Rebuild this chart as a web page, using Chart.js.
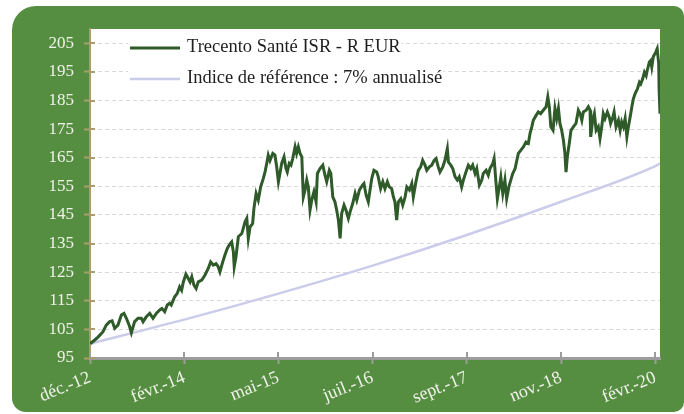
<!DOCTYPE html>
<html lang="fr">
<head>
<meta charset="utf-8">
<title>Trecento Santé ISR - R EUR</title>
<script src="https://cdn.jsdelivr.net/npm/chart.js@4.4.1/dist/chart.umd.min.js"></script>
<style>
    html, body { margin: 0; padding: 0; background: #ffffff; }
</style>
</head>
<body>
<canvas id="graficoFonds" width="684" height="414"></canvas>
<script>
// jours depuis le départ (mi-décembre 2012) et valeurs
const fundDays = [0,22,37,60,75,91,102,114,129,145,
    157,168,183,191,206,222,237,245,260,276,
    291,306,322,332,345,357,368,375,391,403,
    414,423,431,443,454,462,470,480,490,500,
    516,531,546,557,569,582,592,600,613,623,
    634,647,654,662,666,674,685,701,716,724,
    731,739,751,757,767,777,788,800,808,816,
    823,831,844,854,862,870,877,885,896,905,
    911,920,928,936,947,954,962,970,978,985,
    993,1001,1008,1016,1024,1034,1044,1050,1062,1075,
    1085,1093,1105,1112,1121,1131,1139,1147,1155,1162,
    1173,1182,1193,1201,1213,1224,1232,1244,1259,1265,
    1275,1285,1293,1301,1311,1324,1331,1342,1352,1362,
    1373,1382,1393,1401,1408,1416,1424,1435,1444,1455,
    1463,1475,1486,1493,1505,1516,1527,1536,1547,1555,
    1567,1578,1589,1598,1608,1616,1629,1639,1650,1655,
    1666,1675,1686,1696,1705,1716,1724,1736,1747,1758,
    1767,1778,1786,1798,1809,1816,1829,1839,1847,1860,
    1866,1875,1881,1890,1897,1906,1916,1924,1934,1943,
    1952,1963,1971,1978,1989,2001,2013,2024,2032,2040,
    2047,2060,2070,2081,2093,2106,2114,2121,2128,2138,
    2147,2155,2163,2170,2178,2186,2193,2198,2204,2213,
    2221,2232,2244,2255,2263,2271,2278,2291,2301,2309,
    2312,2321,2329,2337,2347,2355,2363,2370,2378,2389,
    2398,2404,2414,2420,2429,2440,2448,2455,2463,2471,
    2479,2486,2494,2502,2509,2517,2528,2537,2543,2552,
    2560,2568,2573,2583,2589,2594,2601,2613,2619,2626,
    2628,2632];

const fundValues = [100,101.3,102.3,104.2,106.5,107.7,108,105.4,106.5,110,
    110.6,108.9,106,103.8,107.7,108.9,108.9,107.7,109.4,110.6,
    108.9,110.6,111.8,112.3,111.2,113.5,114.1,113.5,116.4,117.6,
    119.9,118.7,121.6,124.3,122.8,121.6,123.4,120.5,119.3,121.6,
    122.2,124,126.3,128.6,127.5,128,126.9,125.1,128.6,131,
    133.3,135,135.6,132.1,126.9,130.4,137.4,138.5,142.6,143.8,
    136.8,140.8,142,147.3,152.5,150.2,154.8,157.7,160,163,
    165.9,164,166.5,165.9,161.8,156.6,159.5,163,165.3,161.2,
    160,163,162.4,164.7,168.8,166.5,168.8,166.5,165.3,151.3,
    153.7,157.2,154.8,146.7,150.2,153.1,149.6,159.5,161.2,162.4,
    158.9,156.6,160.6,159.5,151.3,149.6,146.7,143.2,136.8,145.5,
    148.4,146.7,143.8,146.1,149,152.5,150.2,153.7,155.5,156,
    151.9,149.6,153.7,157.7,160.6,160,158.3,154.2,156.6,154.2,
    156.6,154.8,154.2,151.3,149.6,143.2,149.6,150.7,148.4,151.3,
    154.8,153.7,156,151.3,156.6,160.6,161.8,164.1,162.4,160.6,
    161.8,162.4,164.1,164.7,161.8,160,161.8,164.1,168.2,163.5,
    162.4,161.2,158.3,157.2,158.3,154.8,157.2,160,162.4,161.2,
    162.4,159.5,161.2,155.4,157.2,159.5,160.6,158.9,161.2,163,
    164.7,156,150.7,154.8,158.3,152.5,157.2,150.7,154.8,157.2,
    159.5,161.2,164.1,166.5,167.6,168.8,170.5,170,173.5,175.8,
    178.1,179.8,181,180.4,181.6,182.8,186.3,182.8,175.8,174.6,
    182.2,178.7,182.2,177,174.6,171.1,166.5,160,165.3,170,
    174.6,175.8,177,181.6,180.4,178.1,181,181.6,182.8,181.6,
    172.3,178.1,180.4,174.6,175.8,171.7,175.8,180.4,178.7,181,
    179.2,177,179.2,181,175.8,178.1,174.6,177.5,175.8,178.7,
    172.3,175.8,179.2,182.8,185.6,187.4,189.1,191.4,190.8,192.6,
    194.9,193.7,195.5,198.5,199,196.7,200.3,202,203.1,197.9,
    188.6,180.4];

// indice de référence, lu aux graduations
const indexDays = [0, 435, 870, 1305, 1740, 2175, 2610, 2632];
const indexValues = [100, 108.4, 117.5, 127.3, 138.0, 149.6, 162.1, 163.0];

const seriesNames = ['Trecento Santé ISR - R EUR', 'Indice de référence : 7% annualisé'];

const xTickDays = [0, 435, 870, 1305, 1740, 2175, 2610];
const xTickLabels = ['déc.-12', 'févr.-14', 'mai-15', 'juil.-16', 'sept.-17', 'nov.-18', 'févr.-20'];
const yTicks = [95, 105, 115, 125, 135, 145, 155, 165, 175, 185, 195, 205];

const fontSerif = "'Liberation Serif', 'DejaVu Serif', serif";
const colorFund = '#2F5A29';
const colorIndex = '#CBCBEA';
const colorAxeY = '#AD9C6B';
const colorAxeX = '#9C9C9C';

// fond vert arrondi + zone blanche du graphique
const fondo = {
    id: 'fondo',
    beforeDraw(chart) {
        const ctx = chart.ctx;
        const a = chart.chartArea;
        ctx.save();
        ctx.fillStyle = '#ffffff';
        ctx.fillRect(0, 0, chart.width, chart.height);
        ctx.fillStyle = '#558E40';
        ctx.beginPath();
        ctx.roundRect(12, 6, chart.width - 12, chart.height - 8, [24, 10, 10, 14]);
        ctx.fill();
        ctx.fillStyle = '#ffffff';
        ctx.fillRect(a.left, a.top, a.right - a.left, a.bottom - a.top);
        ctx.restore();
    }
};

// petites graduations vers l'intérieur + légende
const leyenda = {
    id: 'leyenda',
    afterDraw(chart) {
        const ctx = chart.ctx;
        const a = chart.chartArea;
        const sx = chart.scales.x;
        const sy = chart.scales.y;
        ctx.save();

        ctx.lineWidth = 2;
        ctx.strokeStyle = colorAxeY;
        yTicks.forEach(function(v){
            const y = Math.round(sy.getPixelForValue(v));
            ctx.beginPath();
            ctx.moveTo(a.left, y);
            ctx.lineTo(a.left + 5, y);
            ctx.stroke();
        });
        ctx.strokeStyle = colorAxeX;
        xTickDays.forEach(function(v){
            const x = Math.round(sx.getPixelForValue(v));
            ctx.beginPath();
            ctx.moveTo(x, a.bottom);
            ctx.lineTo(x, a.bottom - 6);
            ctx.stroke();
        });

        ctx.font = '18.5px ' + fontSerif;
        ctx.textBaseline = 'middle';
        const filas = [
            { y: a.top + 18, color: colorFund, width: 3 },
            { y: a.top + 49, color: colorIndex, width: 2.5 }
        ];
        filas.forEach(function(f, i){
            const w = ctx.measureText(seriesNames[i]).width;
            ctx.fillStyle = '#ffffff';
            ctx.fillRect(a.left + 38, f.y - 9, 60 + w, 18);
            ctx.strokeStyle = f.color;
            ctx.lineWidth = f.width;
            ctx.beginPath();
            ctx.moveTo(a.left + 40, f.y + 1);
            ctx.lineTo(a.left + 90, f.y + 1);
            ctx.stroke();
            ctx.fillStyle = '#1E1E1E';
            ctx.fillText(seriesNames[i], a.left + 97, f.y);
        });
        ctx.restore();
    }
};

const datachart = {
    datasets: [
        {
            label: seriesNames[0],
            data: fundDays.map((d, i) => ({ x: d, y: fundValues[i] })),
            borderColor: colorFund,
            borderWidth: 3,
            pointRadius: 0,
            tension: 0
        },
        {
            label: seriesNames[1],
            data: indexDays.map((d, i) => ({ x: d, y: indexValues[i] })),
            borderColor: colorIndex,
            borderWidth: 2.5,
            pointRadius: 0,
            cubicInterpolationMode: 'monotone'
        }
    ]
};

const options = {
    responsive: false,
    animation: false,
    layout: { padding: { left: 0, right: 24, top: 29, bottom: 0 } },
    plugins: {
        legend: { display: false },
        tooltip: { enabled: false }
    },
    scales: {
        x: {
            type: 'linear',
            min: 0,
            max: 2632,
            afterBuildTicks: s => { s.ticks = xTickDays.map(v => ({ value: v })); },
            afterFit: s => { s.height = 56; },
            grid: { drawOnChartArea: false, tickColor: colorAxeX, tickLength: 6, tickWidth: 2 },
            border: { color: colorAxeX, width: 3 },
            ticks: {
                color: '#F2F2EC',
                font: { family: fontSerif, size: 18 },
                autoSkip: false,
                minRotation: 22,
                maxRotation: 22,
                padding: 3,
                callback: (v, i) => xTickLabels[i]
            }
        },
        y: {
            min: 95,
            max: 210,
            afterBuildTicks: s => { s.ticks = yTicks.map(v => ({ value: v })); },
            afterFit: s => { s.width = 90; },
            grid: { color: '#D8D8D8', lineWidth: 1, tickColor: colorAxeY, tickLength: 6, tickWidth: 2, tickBorderDash: [] },
            border: { color: colorAxeY, width: 2, dash: [4, 3] },
            ticks: {
                color: '#F2F2EC',
                font: { family: fontSerif, size: 17 },
                padding: 10
            }
        }
    }
};

new Chart(document.getElementById('graficoFonds'), {
    plugins: [fondo, leyenda],
    type: 'line',
    data: datachart,
    options: options
});
</script>
</body>
</html>
